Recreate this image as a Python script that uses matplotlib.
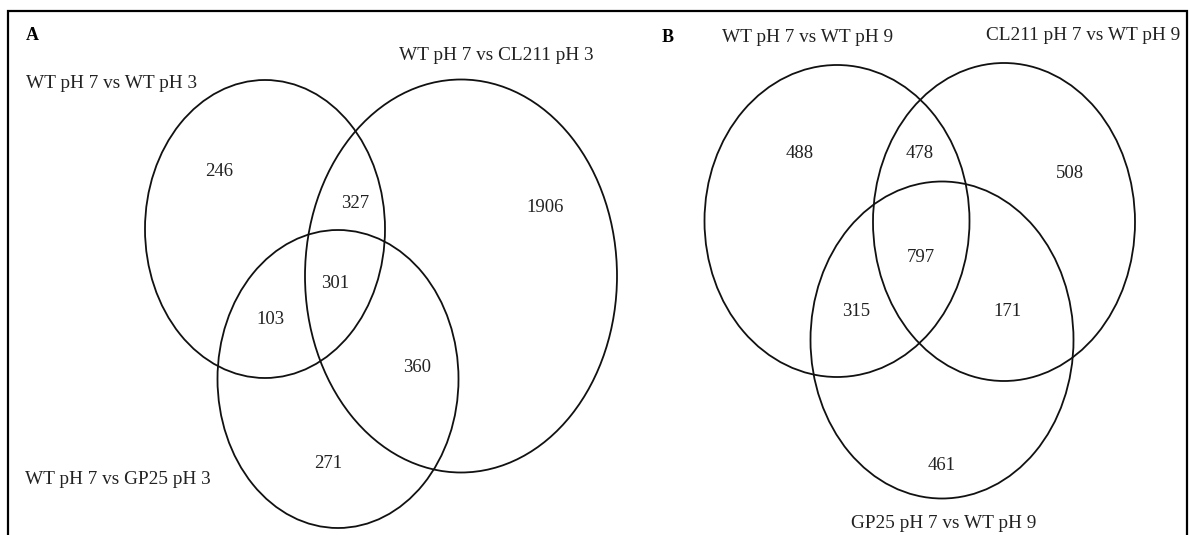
import matplotlib.pyplot as plt
from matplotlib.patches import Ellipse

# set names and region counts
sets_a = ['WT pH 7 vs WT pH 3', 'WT pH 7 vs CL211 pH 3', 'WT pH 7 vs GP25 pH 3']
# regions: only1, only2, only3, 1&2, 1&3, 2&3, all
counts_a = [246, 1906, 271, 327, 103, 360, 301]

sets_b = ['WT pH 7 vs WT pH 9', 'CL211 pH 7 vs WT pH 9', 'GP25 pH 7 vs WT pH 9']
counts_b = [488, 508, 461, 478, 315, 171, 797]

# layout in pixel coords (x, y, width, height)
ell_a = [(265, 229, 240, 298), (461, 276, 312, 393), (338, 379, 241, 298)]
ell_b = [(837, 221, 265, 312), (1004, 222, 262, 318), (942, 340, 263, 317)]
# count positions, same order as counts
pos_a = [(219, 171), (545, 207), (328, 463), (355, 204), (270, 319), (417, 367), (335, 284)]
pos_b = [(800, 154), (1070, 173), (942, 465), (920, 154), (856, 312), (1007, 312), (921, 258)]
# set label positions (x, y, ha)
lab_a = [(26, 84, 'left'), (496, 56, 'center'), (25, 479, 'left')]
lab_b = [(808, 38, 'center'), (1083, 36, 'center'), (944, 523, 'center')]

plt.rcParams['font.family'] = ['Liberation Serif', 'DejaVu Serif']

fig = plt.figure(figsize=(11.9, 5.35), dpi=100)
ax = fig.add_axes([0, 0, 1, 1])
ax.set_xlim(0, 1190)
ax.set_ylim(535, 0)
ax.axis('off')

# outer frame (no bottom edge visible)
ax.plot([8, 8, 1187, 1187], [540, 11, 11, 540], color='black', lw=1.6,
        solid_joinstyle='miter')


def draw_venn(ells, counts, pos, names, labs):
    for (x, y, w, h) in ells:
        ax.add_patch(Ellipse((x, y), w, h, fill=False, ec='#111111', lw=1.3))
    for c, (x, y) in zip(counts, pos):
        ax.text(x, y, str(c), ha='center', va='center', fontsize=13.5, color='#222222')
    for n, (x, y, ha) in zip(names, labs):
        ax.text(x, y, n, ha=ha, va='center', fontsize=13.9, color='#222222')


draw_venn(ell_a, counts_a, pos_a, sets_a, lab_a)
draw_venn(ell_b, counts_b, pos_b, sets_b, lab_b)

ax.text(32, 36, 'A', ha='center', va='center', fontsize=13, fontweight='bold')
ax.text(668, 38, 'B', ha='center', va='center', fontsize=13, fontweight='bold')

fig.savefig('out.png', dpi=100, facecolor='white')
